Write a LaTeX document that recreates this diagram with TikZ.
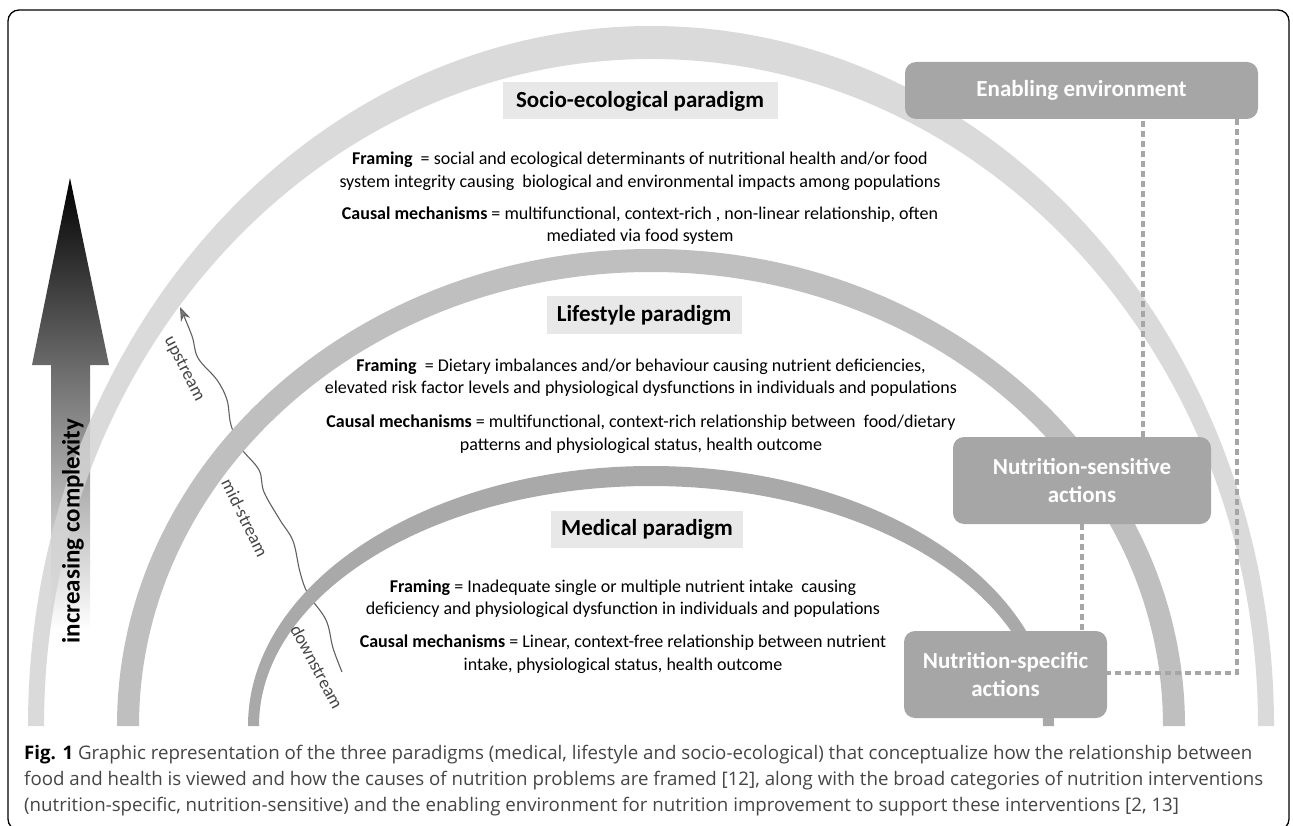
\documentclass[tikz,border=0pt]{standalone}
\usepackage{fontspec}
\setmainfont{Carlito}
\newfontfamily\capfont{Open Sans}
\usetikzlibrary{positioning, arrows.meta}
\definecolor{bandout}{HTML}{D4D4D4}
\definecolor{bandmid}{HTML}{BFBFBF}
\definecolor{bandin}{HTML}{A9A9A9}
\definecolor{boxgray}{HTML}{A6A6A6}
\definecolor{titlegray}{HTML}{E8E8E8}
\definecolor{streamgray}{HTML}{606060}
\definecolor{capgray}{HTML}{454545}
\tikzset{>=stealth,
  body/.style={align=center, font=\fontsize{18}{22.5}\selectfont, inner sep=0pt},
  titlebox/.style={fill=titlegray, font=\bfseries\fontsize{23}{26}\selectfont, minimum height=37pt, inner sep=4pt},
  actbox/.style={fill=boxgray, text=white, rounded corners=11pt, align=center,
    font=\bfseries\fontsize{23}{28}\selectfont},
  dots/.style={boxgray, line width=4.5pt, dash pattern=on 5.5pt off 4.5pt},
  streamlbl/.style={text=capgray, font=\fontsize{18}{20}\selectfont, inner sep=1pt},
  capline/.style={anchor=west, text=capgray, inner sep=0pt, font=\capfont\fontsize{18.7}{22}\selectfont}}

\begin{document}
\begin{tikzpicture}[x=1pt, y=-1pt]
    \useasboundingbox (0,0) rectangle (1293,826);
    \draw[line width=1.3pt, rounded corners=11pt] (8,10) rectangle (1289,830);

    % increasing complexity arrow
    \shade[top color=black, middle color=black!52, bottom color=white]
        (70,178) -- (109,365) -- (90,365) -- (90,630) -- (51,630) -- (51,365) -- (32,365) -- cycle;

    % up/mid/down stream
    \coordinate (dstream) at (342,672);
    \coordinate (ustream) at (180,307);
    \draw[streamgray, line width=1.1pt, -{Stealth[length=14pt, width=10pt, fill=gray]}]
        plot[smooth, tension=.6] coordinates {(dstream) (333,648) (326,620) (308,594) (300,572)
        (293,541) (280,520) (264,492) (259,470) (241,448) (231,425) (227,400) (217,380)
        (198,358) (192,336) (ustream)};

    % the three paradigms
    \foreach \rxo/\ryo/\rxi/\ryi/\col/\op in {623/700/607/667/bandout/0.85, 534/477/512/454/bandmid/1, 403/260/392/240/bandin/1}
    {\fill[\col, fill opacity=\op] (651-\rxo,726) arc[start angle=180, end angle=0, x radius=\rxo pt, y radius=\ryo pt]
        -- (651+\rxi,726) arc[start angle=0, end angle=180, x radius=\rxi pt, y radius=\ryi pt] -- cycle;}

    \node[font=\bfseries\fontsize{25}{28}\selectfont, rotate=90] (cmplx) at (73,531) {increasing complexity};

    \node[titlebox, minimum width=275pt] (socio) at (640,101) {Socio-ecological paradigm};
    \node[body] (socioFr) at (640,171) {\textbf{Framing}\ \ = social and ecological determinants of nutritional health and/or food\\
        system integrity causing\ \ biological and environmental impacts among populations};
    \node[body] (socioCm) at (640,225.5) {\textbf{Causal mechanisms} = multifunctional, context-rich , non-linear relationship, often\\
        mediated via food system};

    \node[titlebox, minimum width=195pt] (life) at (644,315) {Lifestyle paradigm};
    \node[body] (lifeFr) at (641,377.5) {\textbf{Framing}\ \ = Dietary imbalances and/or behaviour causing nutrient deficiencies,\\
        elevated risk factor levels and physiological dysfunctions in individuals and populations};
    \node[body] (lifeCm) at (641,434) {\textbf{Causal mechanisms} = multifunctional, context-rich relationship between\ \ food/dietary\\
        patterns and physiological status, health outcome};

    \node[titlebox, minimum width=192pt] (med) at (647,529) {Medical paradigm};
    \node[body] (medFr) at (623,598.5) {\textbf{Framing} = Inadequate single or multiple nutrient intake\ \ causing\\
        deficiency and physiological dysfunction in individuals and populations};
    \node[body] (medCm) at (623,654) {\textbf{Causal mechanisms} = Linear, context-free relationship between nutrient\\
        intake, physiological status, health outcome};

    \node[streamlbl, rotate=-63] (up) at (184,369) {upstream};
    \node[streamlbl, rotate=-64] (mid) at (245,518) {mid-stream};
    \node[streamlbl, rotate=-62] (down) at (317,667) {downstream};

    % interventions
    \node[actbox, minimum width=353pt, minimum height=57pt] (enab) at (1081.5,90.5) {Enabling environment};
    \node[actbox, minimum width=258pt, minimum height=87pt] (sens) at (1082,480.5) {Nutrition-sensitive\\ actions};
    \node[actbox, minimum width=203pt, minimum height=87pt] (spec) at (1005.5,674.5) {Nutrition-specific\\ actions};

    \coordinate (dcorner) at (1237,673);
    \draw[dots] ([xshift=61pt]sens.north) -- ([xshift=61pt]sens.north |- enab.south);
    \draw[dots] (enab.south -| dcorner) -- (dcorner) -- (spec.east |- dcorner);
    \draw[dots] (sens.south) -- (sens.south |- spec.north);

    % caption
    \node[capline] (cap1) at (24,755) {{\color{black}\bfseries Fig. 1} Graphic representation of the three paradigms (medical, lifestyle and socio-ecological) that conceptualize how the relationship between};
    \node[capline] (cap2) at (24,781) {food and health is viewed and how the causes of nutrition problems are framed [12], along with the broad categories of nutrition interventions};
    \node[capline] (cap3) at (24,807) {(nutrition-specific, nutrition-sensitive) and the enabling environment for nutrition improvement to support these interventions [2, 13]};
\end{tikzpicture}
\end{document}
